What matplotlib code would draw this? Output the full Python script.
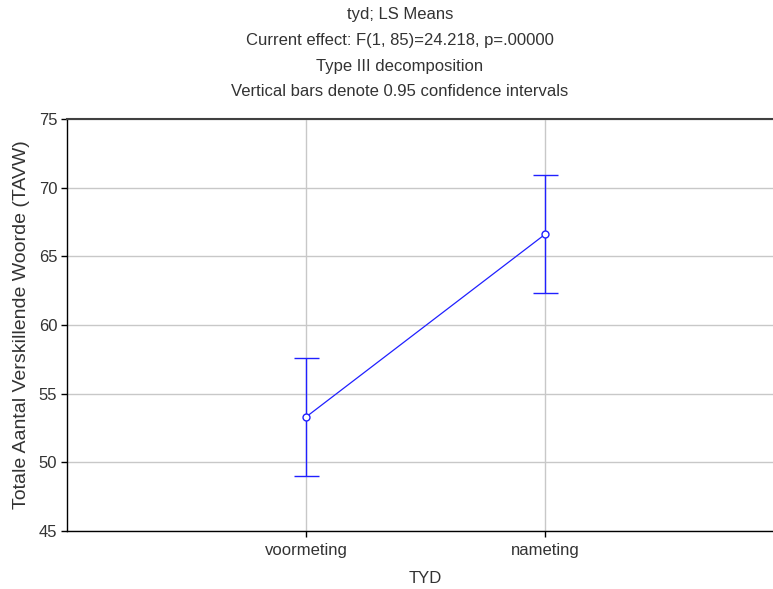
import matplotlib
matplotlib.use('Agg')
from matplotlib import pyplot as plt

plt.rcParams['font.family'] = ['Liberation Sans', 'DejaVu Sans']

groups = ['voormeting', 'nameting']
means = [53.3, 66.6]
ci_low = [49.0, 62.3]
ci_high = [57.6, 70.9]
title_lines = ['tyd; LS Means',
               'Current effect: F(1, 85)=24.218, p=.00000',
               'Type III decomposition',
               'Vertical bars denote 0.95 confidence intervals']
txt = '#333333'

fig = plt.figure(figsize=(7.73, 5.89), dpi=100)
ax = fig.add_axes([67 / 773, 58 / 589, 717 / 773, 412 / 589])

x = list(range(len(groups)))
err = [[m - lo for m, lo in zip(means, ci_low)],
       [hi - m for m, hi in zip(means, ci_high)]]
ax.errorbar(x, means, yerr=err, color='#2020ff', lw=0.9, elinewidth=1.0,
            capsize=9, capthick=1.0, marker='o', ms=5, mfc='white',
            mec='#2020ff', mew=1.0, zorder=3)

ax.set_xlim(-1, 2)
ax.set_ylim(45, 75)
ax.set_yticks(range(45, 76, 5))
ax.set_xticks(x)
ax.set_xticklabels(groups)
ax.grid(True, color='#c8c8c8', lw=1.0)
ax.set_axisbelow(True)
ax.tick_params(direction='out', length=4, width=1, labelsize=12,
               colors='black', labelcolor=txt)
ax.tick_params(axis='x', pad=5)
ax.tick_params(axis='y', pad=3)
for s in ['left', 'bottom']:
    ax.spines[s].set_linewidth(1.0)
ax.spines['top'].set_linewidth(1.5)
ax.spines['top'].set_color('#404040')

ax.set_xlabel('TYD', fontsize=12, labelpad=9, color=txt)
ax.set_ylabel('Totale Aantal Verskillende Woorde (TAVW)', fontsize=14,
              labelpad=6, color=txt)

ys = [15, 41, 66, 91]
for t, yp in zip(title_lines, ys):
    fig.text(400 / 773, 1 - yp / 589, t, ha='center', va='center',
             fontsize=12, color=txt)

fig.savefig('out.png', dpi=100)
